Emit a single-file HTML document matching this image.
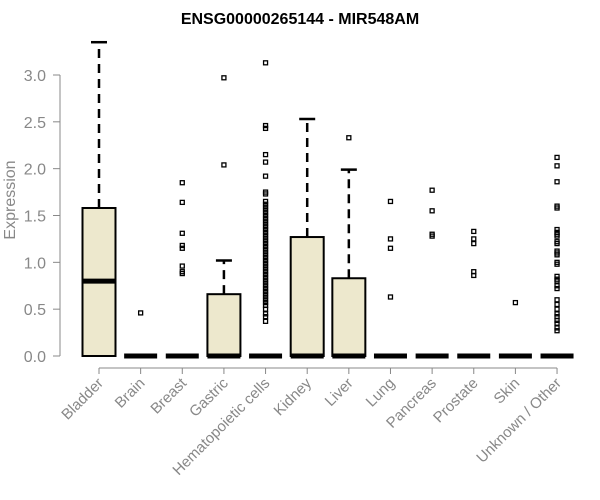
<!DOCTYPE html>
<html><head><meta charset="utf-8"><style>body{margin:0;background:#fff}svg{display:block}</style></head>
<body>
<svg id="chart" width="600" height="500" xmlns="http://www.w3.org/2000/svg" font-family="Liberation Sans, sans-serif">
<text x="300" y="24" text-anchor="middle" font-weight="bold" font-size="16">ENSG00000265144 - MIR548AM</text>
<text transform="translate(15,200) rotate(-90)" text-anchor="middle" font-size="16" fill="#888">Expression</text>
<g id="yaxis"></g>
<g id="xaxis"></g>
<g id="plot"></g>
</svg>
<script>
const categories=["Bladder","Brain","Breast","Gastric","Hematopoietic cells","Kidney","Liver","Lung","Pancreas","Prostate","Skin","Unknown / Other"];
const q1=[0,0,0,0,0,0,0,0,0,0,0,0];
const medians=[0.8,0,0,0,0,0,0,0,0,0,0,0];
const q3=[1.58,0,0,0.66,0,1.27,0.83,0,0,0,0,0];
const whiskerHigh=[3.35,0,0,1.02,0,2.53,1.99,0,0,0,0,0];
const outliers=[[],[0.46],[1.85,1.64,1.31,1.18,1.15,0.96,0.9,0.88],[2.97,2.04],
[3.13,2.46,2.43,2.15,2.07,1.92,1.75,1.73,1.65,1.62,1.59,1.56,1.53,1.5,1.47,1.44,1.41,1.38,1.35,1.32,1.29,1.26,1.23,1.2,1.17,1.14,1.11,1.08,1.05,1.02,0.99,0.96,0.93,0.9,0.87,0.84,0.81,0.78,0.75,0.72,0.69,0.66,0.63,0.6,0.57,0.54,0.5,0.45,0.42,0.37],
[],[2.33],[1.65,1.25,1.15,0.63],[1.77,1.55,1.3,1.28],[1.33,1.25,1.2,0.9,0.86],[0.57],
[2.12,2.03,1.86,1.6,1.58,1.35,1.32,1.3,1.28,1.22,1.2,1.12,1.1,1.08,1.0,0.98,0.85,0.82,0.8,0.75,0.72,0.6,0.55,0.5,0.45,0.42,0.38,0.35,0.3,0.27]];
const yTicks=[0,0.5,1,1.5,2,2.5,3];
const tickLabels=["0.0","0.5","1.0","1.5","2.0","2.5","3.0"];
const NS="http://www.w3.org/2000/svg";
const y=v=>356-v*93.67;
const x=i=>99+i*41.64;
function mk(parent,tag,attrs){const e=document.createElementNS(NS,tag);for(const k in attrs)e.setAttribute(k,attrs[k]);parent.appendChild(e);return e;}
const ya=document.getElementById('yaxis'),xa=document.getElementById('xaxis'),pl=document.getElementById('plot');
mk(ya,'line',{x1:60,x2:60,y1:y(0),y2:y(3),stroke:'#888'});
yTicks.forEach((t,i)=>{
  const l=mk(ya,'line',{x1:53,x2:60,y1:y(t),y2:y(t),stroke:'#888'});
  
  
  const tx=mk(ya,'text',{x:46,y:y(t)+6,'text-anchor':'end','font-size':16,fill:'#888'});
  tx.textContent=tickLabels[i];
  
  
});
mk(xa,'line',{x1:x(0),x2:x(categories.length-1),y1:368,y2:368,stroke:'#888'});
categories.forEach((c,i)=>{
  const cx=x(i);
  mk(xa,'line',{x1:cx,x2:cx,y1:368,y2:374,stroke:'#888'});
  const tx=mk(xa,'text',{x:cx+5,y:384,'text-anchor':'end','font-size':15,fill:'#888',transform:`rotate(-45 ${cx+5} 384)`});
  tx.textContent=c;
  
  
  const g=mk(pl,'g',{});
  
  
  const hw=16.5;
  if(whiskerHigh[i]>q3[i]){
    mk(g,'line',{x1:cx,x2:cx,y1:y(q3[i]),y2:y(whiskerHigh[i]),stroke:'#000','stroke-width':2.5,'stroke-dasharray':'9,6'});
    mk(g,'line',{x1:cx-8,x2:cx+8,y1:y(whiskerHigh[i]),y2:y(whiskerHigh[i]),stroke:'#000','stroke-width':2.5});
  }
  if(q3[i]>q1[i]) mk(g,'rect',{x:cx-hw,y:y(q3[i]),width:hw*2,height:y(q1[i])-y(q3[i]),fill:'#ede8cd',stroke:'#000','stroke-width':2});
  mk(g,'line',{x1:cx-hw,x2:cx+hw,y1:y(medians[i]),y2:y(medians[i]),stroke:'#000','stroke-width':5});
  outliers[i].forEach(v=>{
    const r=mk(g,'rect',{x:cx-2,y:y(v)-2,width:4,height:4,fill:'none',stroke:'#000','stroke-width':1.3});
    
    
  });
});
</script>
</body></html>
